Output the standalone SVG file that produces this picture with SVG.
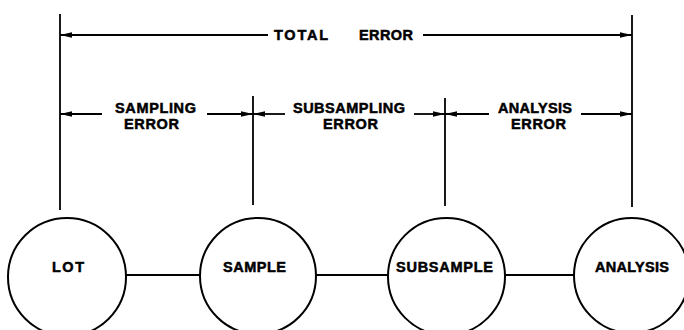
<svg xmlns="http://www.w3.org/2000/svg" width="684" height="330" viewBox="0 0 684 330">
  <defs>
    <!-- slender filled arrowhead, tip at the line end -->
    <marker id="arrow" viewBox="0 0 12 6" refX="12" refY="3" markerWidth="12" markerHeight="6" markerUnits="userSpaceOnUse" orient="auto-start-reverse">
      <path d="M0,0.3 L12,3 L0,5.7 Z" fill="#000"/>
    </marker>
    <style>
      .ln { stroke: #000; stroke-width: 1.8; fill: none; }
      .node { stroke: #000; stroke-width: 2; fill: #fff; }
      .lbl { font-family: "Liberation Sans", Arial, sans-serif; font-weight: bold; font-size: 14.5px; fill: #000; stroke: #000; stroke-width: 0.5; }
    </style>
  </defs>
  <rect width="684" height="330" fill="#fff"/>

  <!-- connectors: extension lines, dimension arrows and links between stages -->
  <g id="connectors">
    <!-- vertical extension lines -->
    <line class="ln" x1="60" y1="14" x2="60" y2="210"/>
    <line class="ln" x1="253" y1="96" x2="253" y2="205"/>
    <line class="ln" x1="445" y1="98" x2="445" y2="206"/>
    <line class="ln" x1="632" y1="15" x2="632" y2="207"/>

    <!-- total error dimension -->
    <line class="ln" x1="268" y1="35" x2="60" y2="35" marker-end="url(#arrow)"/>
    <line class="ln" x1="423" y1="35" x2="632" y2="35" marker-end="url(#arrow)"/>

    <!-- sampling error dimension -->
    <line class="ln" x1="102" y1="114" x2="60" y2="114" marker-end="url(#arrow)"/>
    <line class="ln" x1="207" y1="114" x2="253" y2="114" marker-end="url(#arrow)"/>

    <!-- subsampling error dimension -->
    <line class="ln" x1="285" y1="114" x2="253" y2="114" marker-end="url(#arrow)"/>
    <line class="ln" x1="414" y1="114" x2="445" y2="114" marker-end="url(#arrow)"/>

    <!-- analysis error dimension -->
    <line class="ln" x1="489" y1="114" x2="445" y2="114" marker-end="url(#arrow)"/>
    <line class="ln" x1="581" y1="114" x2="632" y2="114" marker-end="url(#arrow)"/>

    <!-- links between stages -->
    <line class="ln" x1="126" y1="275" x2="200" y2="275"/>
    <line class="ln" x1="316" y1="275" x2="388" y2="275"/>
    <line class="ln" x1="505" y1="275" x2="574" y2="275"/>
  </g>

  <!-- dimension labels -->
  <g id="labels">
    <text class="lbl" x="274" y="40" textLength="54" lengthAdjust="spacing">TOTAL</text>
    <text class="lbl" x="359" y="40" textLength="54" lengthAdjust="spacing">ERROR</text>

    <text class="lbl" x="115" y="112.5" textLength="81" lengthAdjust="spacing">SAMPLING</text>
    <text class="lbl" x="124" y="128.5" textLength="55" lengthAdjust="spacing">ERROR</text>

    <text class="lbl" x="293" y="112.5" textLength="112" lengthAdjust="spacing">SUBSAMPLING</text>
    <text class="lbl" x="323" y="128.5" textLength="55" lengthAdjust="spacing">ERROR</text>

    <text class="lbl" x="498" y="112.5" textLength="74" lengthAdjust="spacing">ANALYSIS</text>
    <text class="lbl" x="511" y="128.5" textLength="55" lengthAdjust="spacing">ERROR</text>
  </g>

  <g id="node-lot">
    <circle class="node" cx="67" cy="277" r="59"/>
    <text class="lbl" x="52" y="271.5" textLength="32" lengthAdjust="spacing">LOT</text>
  </g>

  <g id="node-sample">
    <circle class="node" cx="258" cy="276" r="58"/>
    <text class="lbl" x="223" y="271.5" textLength="63" lengthAdjust="spacing">SAMPLE</text>
  </g>

  <g id="node-subsample">
    <circle class="node" cx="446.5" cy="276.5" r="58.5"/>
    <text class="lbl" x="396" y="271.5" textLength="97" lengthAdjust="spacing">SUBSAMPLE</text>
  </g>

  <g id="node-analysis">
    <circle class="node" cx="631.5" cy="275.5" r="57.5"/>
    <text class="lbl" x="595" y="271.5" textLength="74" lengthAdjust="spacing">ANALYSIS</text>
  </g>
</svg>
